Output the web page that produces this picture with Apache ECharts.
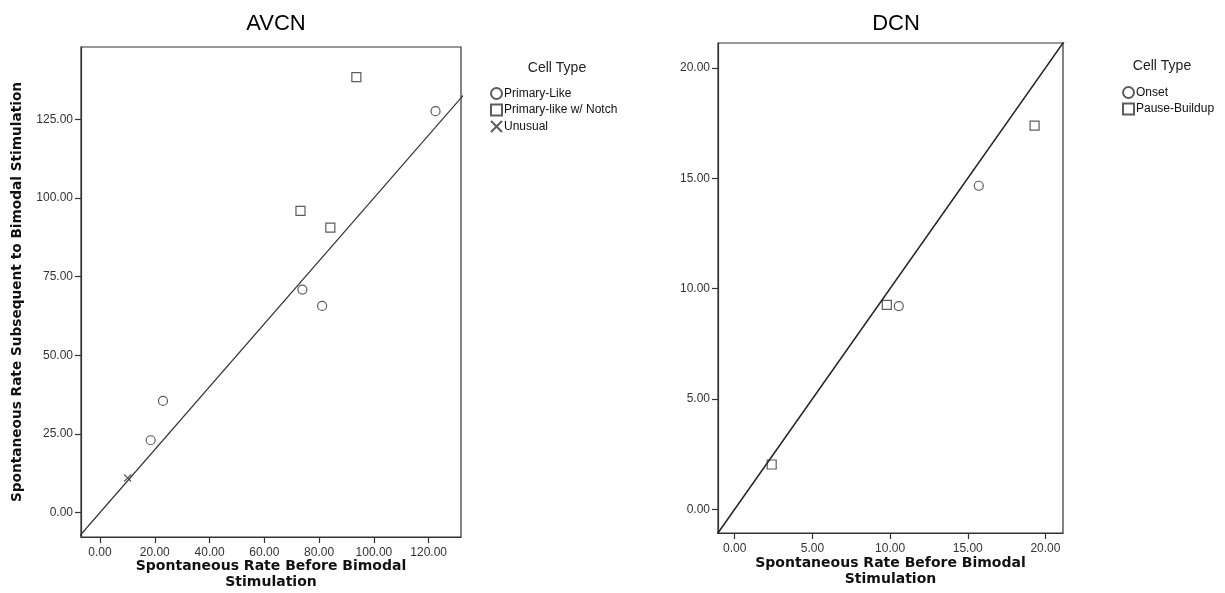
<!DOCTYPE html>
<html>
<head>
<meta charset="utf-8">
<script src="https://cdn.jsdelivr.net/npm/echarts@6/dist/echarts.min.js"></script>
<style>html,body{margin:0;padding:0;background:#fff;}#c{width:1225px;height:593px;}</style>
</head>
<body>
<div id="c"></div>
<script>
// ---- data ----
const avcnPrimaryLike = [[73.9,70.9],[81.1,65.7],[23.0,35.5],[18.5,23.0],[122.5,127.6]];
const avcnNotch = [[93.6,138.4],[73.2,95.9],[84.1,90.6]];
const avcnUnusual = [[10.1,11.0]];
const dcnOnset = [[15.71,14.66],[10.56,9.21]];
const dcnPause = [[19.3,17.39],[9.79,9.26],[2.38,2.03]];
const avcnXTicks = [0,20,40,60,80,100,120];
const avcnYTicks = [0,25,50,75,100,125];
const dcnTicks = [0,5,10,15,20];
const avcnXRange = [-6.93,131.8];
const avcnYRange = [-7.76,148];
const dcnRange = [-1.075,21.13];
const avcnRefLine = [[-10,-10],[150,150]];
const dcnRefLine = [[-2,-2],[23,23]];

const chart = echarts.init(document.getElementById('c'));
const FONT = 'Liberation Sans, Arial, sans-serif';
const TITLEFONT = 'DejaVu Sans, Verdana, sans-serif';
const fmt = v => v.toFixed(2);
const markStyle = {color:'rgba(0,0,0,0)', borderColor:'#333', borderWidth:1.2};
const xPath = 'path://M0,0L10,10M10,0L0,10';

function axis(range, ticks, margin, extra){
  return Object.assign({
    type:'value', min:range[0], max:range[1],
    axisLine:{show:true, onZero:false, lineStyle:{color:'#333', width:1.2}},
    splitLine:{show:false},
    axisTick:{show:true, inside:false, length:6, customValues:ticks, lineStyle:{color:'#333', width:1.2}},
    axisLabel:{customValues:ticks, formatter:fmt, color:'#333', fontFamily:FONT, fontSize:12, margin:margin}
  }, extra);
}
const xNameStyle = {fontFamily:TITLEFONT, fontSize:14, fontWeight:'bold', color:'#111', lineHeight:16};

chart.setOption({
  backgroundColor:'#fff',
  animation:false,
  title:[
    {text:'AVCN', left:271, top:8, textAlign:'center', textStyle:{fontFamily:FONT, fontSize:22, fontWeight:'normal', color:'#000'}},
    {text:'DCN', left:891, top:8, textAlign:'center', textStyle:{fontFamily:FONT, fontSize:22, fontWeight:'normal', color:'#000'}},
    {text:'Cell Type', left:552, top:56, textAlign:'center', textStyle:{fontFamily:FONT, fontSize:14, fontWeight:'normal', color:'#222'}},
    {text:'Cell Type', left:1157, top:54, textAlign:'center', textStyle:{fontFamily:FONT, fontSize:14, fontWeight:'normal', color:'#222'}}
  ],
  legend:[
    {orient:'vertical', left:485, top:82, itemWidth:11, itemHeight:11, itemGap:3.5,
     data:['Primary-Like','Primary-like w/ Notch','Unusual'],
     textStyle:{fontFamily:FONT, fontSize:12, color:'#111', padding:[0,0,0,-3]}},
    {orient:'vertical', left:1117, top:81, itemWidth:11, itemHeight:11, itemGap:3.5,
     data:['Onset','Pause-Buildup'],
     textStyle:{fontFamily:FONT, fontSize:12, color:'#111', padding:[0,0,0,-3]}}
  ],
  grid:[
    {left:81, top:47, width:380, height:490, outerBoundsMode:'none', containLabel:false, show:true, borderColor:'#333', borderWidth:1.2, backgroundColor:'rgba(0,0,0,0)'},
    {left:718, top:43, width:345, height:490, outerBoundsMode:'none', containLabel:false, show:true, borderColor:'#333', borderWidth:1.2, backgroundColor:'rgba(0,0,0,0)'}
  ],
  xAxis:[
    axis(avcnXRange, avcnXTicks, 10, {gridIndex:0, name:'Spontaneous Rate Before Bimodal\nStimulation', nameLocation:'middle', nameGap:21, nameMoveOverlap:false, nameTextStyle:xNameStyle}),
    axis(dcnRange, dcnTicks, 10, {gridIndex:1, name:'Spontaneous Rate Before Bimodal\nStimulation', nameLocation:'middle', nameGap:22, nameMoveOverlap:false, nameTextStyle:xNameStyle})
  ],
  yAxis:[
    axis(avcnYRange, avcnYTicks, 8, {gridIndex:0, name:'Spontaneous Rate Subsequent to Bimodal Stimulation', nameLocation:'middle', nameGap:57, nameMoveOverlap:false,
      nameTextStyle:{fontFamily:TITLEFONT, fontSize:13.7, fontWeight:'bold', color:'#111'}}),
    axis(dcnRange, dcnTicks, 8, {gridIndex:1})
  ],
  series:[
    {type:'line', xAxisIndex:0, yAxisIndex:0, data:avcnRefLine, showSymbol:false, silent:true, clip:true,
     lineStyle:{color:'#333', width:1.2}},
    {type:'line', xAxisIndex:1, yAxisIndex:1, data:dcnRefLine, showSymbol:false, silent:true, clip:true,
     lineStyle:{color:'#222', width:1.5}},
    {name:'Primary-Like', type:'scatter', xAxisIndex:0, yAxisIndex:0, data:avcnPrimaryLike, symbol:'circle', symbolSize:9, itemStyle:markStyle},
    {name:'Primary-like w/ Notch', type:'scatter', xAxisIndex:0, yAxisIndex:0, data:avcnNotch, symbol:'rect', symbolSize:9, itemStyle:markStyle},
    {name:'Unusual', type:'scatter', xAxisIndex:0, yAxisIndex:0, data:avcnUnusual, symbol:xPath, symbolSize:7, itemStyle:markStyle},
    {name:'Onset', type:'scatter', xAxisIndex:1, yAxisIndex:1, data:dcnOnset, symbol:'circle', symbolSize:9, itemStyle:markStyle},
    {name:'Pause-Buildup', type:'scatter', xAxisIndex:1, yAxisIndex:1, data:dcnPause, symbol:'rect', symbolSize:9, itemStyle:markStyle}
  ]
});
</script>
</body>
</html>
